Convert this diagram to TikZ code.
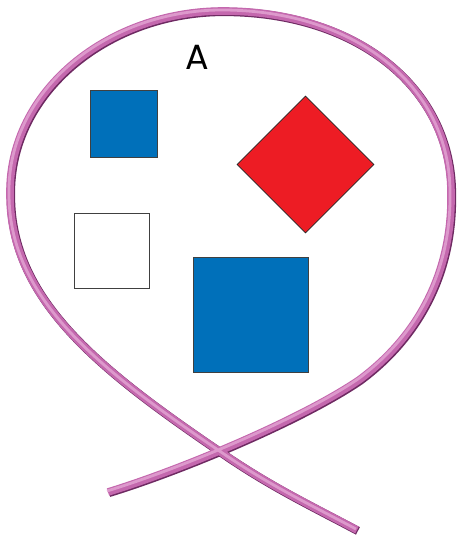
\documentclass[tikz,border=0pt]{standalone}
\usepackage{fontspec}
\newfontfamily\labelfont{Poppins}
\usepackage{tikz}
\usetikzlibrary{shapes.geometric}

\definecolor{setblue}{HTML}{0070BA}
\definecolor{setred}{HTML}{ED1C24}
\definecolor{loopdark}{HTML}{6E2A62}
\definecolor{loopmid}{HTML}{C468AE}
\definecolor{looplight}{HTML}{E4A6D4}

\begin{document}
\begin{tikzpicture}[x=1pt,y=-1pt,
 sq/.style={draw=black!75,line width=0.9pt,inner sep=0pt,minimum width=#1,minimum height=#1},
 bluesq/.style={sq=#1,fill=setblue},
 whitesq/.style={sq=#1,fill=white},
 redtile/.style={diamond,draw=black!85,line width=0.8pt,fill=setred,inner sep=0pt,aspect=1,minimum width=#1,minimum height=#1},
 rope/.style={line cap=butt,line join=round}]
 \useasboundingbox (0,0) rectangle (459,537);
 % the loop, drawn as a tube in three layers
 \def\looppath{(108,492) .. controls (180,470) and (300,420) .. (359,380)
  .. controls (420,335) and (452,270) .. (451,195)
  .. controls (452,90) and (360,12) .. (225,11)
  .. controls (110,10) and (8,90) .. (10,195)
  .. controls (10,300) and (100,370) .. (222,453)
  .. controls (270,486) and (310,505) .. (357,530)}
 \draw[rope,loopdark,line width=8.4pt,xshift=0.9pt,yshift=-0.9pt] \looppath;
 \draw[rope,loopmid,line width=7.6pt] \looppath;
 \draw[rope,looplight,line width=2.8pt,xshift=-1pt,yshift=1pt,opacity=0.8] \looppath;
 % set members
 \node[bluesq=67pt] (small) at (123.5,124) {};
 \node[redtile=137pt] (tile) at (305.5,164.5) {};
 \node[whitesq=75pt] (empty) at (111.5,250.5) {};
 \node[bluesq=115pt] (big) at (251,315) {};
 \node[font=\labelfont\fontsize{35}{38}\selectfont] (name) at (197,57) {A};
\end{tikzpicture}
\end{document}
